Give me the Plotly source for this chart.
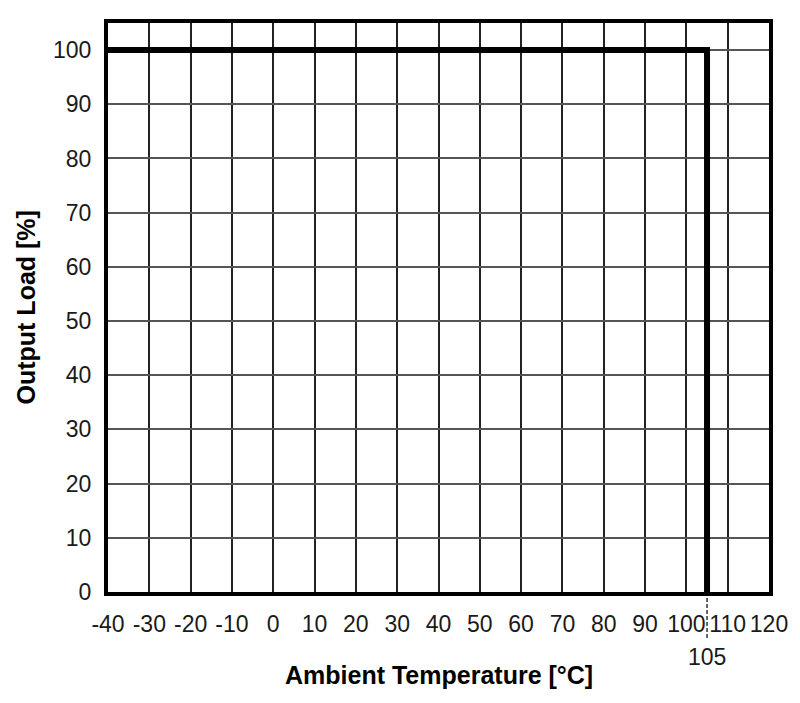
import plotly.graph_objects as go

# Data
curve_temp = [-40, 105, 105]
curve_load = [100, 100, 0]
x_ticks = [-40, -30, -20, -10, 0, 10, 20, 30, 40, 50, 60, 70, 80, 90, 100, 110, 120]
y_ticks = [0, 10, 20, 30, 40, 50, 60, 70, 80, 90, 100]
marker_temp = 105
marker_label = "105"
x_title = "Ambient Temperature [°C]"
y_title = "Output Load [%]"

FONT = "Liberation Sans, Arial, sans-serif"
TXT = "#1a1a1a"

# page body has an 8px default margin; figure sized so it fits 800x703
fig = go.Figure()
fig.add_trace(go.Scatter(
    x=curve_temp, y=curve_load, mode="lines",
    line=dict(color="black", width=6), showlegend=False, hoverinfo="skip",
))

fig.update_layout(
    width=792, height=695,
    margin=dict(l=100, r=31, t=15, b=111, autoexpand=False),
    paper_bgcolor="white", plot_bgcolor="white",
    font=dict(family=FONT, size=23, color=TXT),
    xaxis=dict(
        range=[-40, 120], tickvals=x_ticks, ticktext=[str(v) for v in x_ticks],
        tickangle=0, automargin=False,
        showgrid=True, gridcolor="#222", gridwidth=1.5,
        zeroline=False, showline=True, mirror=True, linecolor="black", linewidth=4,
        ticks="", ticklabelstandoff=8,
    ),
    yaxis=dict(
        range=[0, 105], tickvals=y_ticks, ticktext=[str(v) for v in y_ticks],
        automargin=False,
        showgrid=True, gridcolor="#555", gridwidth=1.5,
        zeroline=False, showline=True, mirror=True, linecolor="black", linewidth=4,
        ticks="", ticklabelstandoff=8,
    ),
)

# pixel positions (page coords) -> paper coords
plot_top, plot_bottom, plot_left, plot_right = 23, 592, 108, 769
def py(pix):
    return (plot_bottom - pix) / (plot_bottom - plot_top)
def px(pix):
    return (pix - plot_left) / (plot_right - plot_left)

fig.add_shape(type="line", xref="x", yref="paper", x0=marker_temp, x1=marker_temp,
              y0=0, y1=py(640), line=dict(color="black", width=1.2, dash="4px,2px"))
fig.add_annotation(x=marker_temp, xref="x", y=py(657), yref="paper", text=marker_label,
                   showarrow=False, yanchor="middle", font=dict(size=23, color=TXT))
fig.add_annotation(x=0.5, xref="paper", y=py(675), yref="paper", text="<b>" + x_title + "</b>",
                   showarrow=False, yanchor="middle", font=dict(size=25, color="black"))
fig.add_annotation(x=px(25), xref="paper", y=0.5, yref="paper", text="<b>" + y_title + "</b>",
                   showarrow=False, textangle=-90, xanchor="center", font=dict(size=25, color="black"))

fig.write_html("out.html")
